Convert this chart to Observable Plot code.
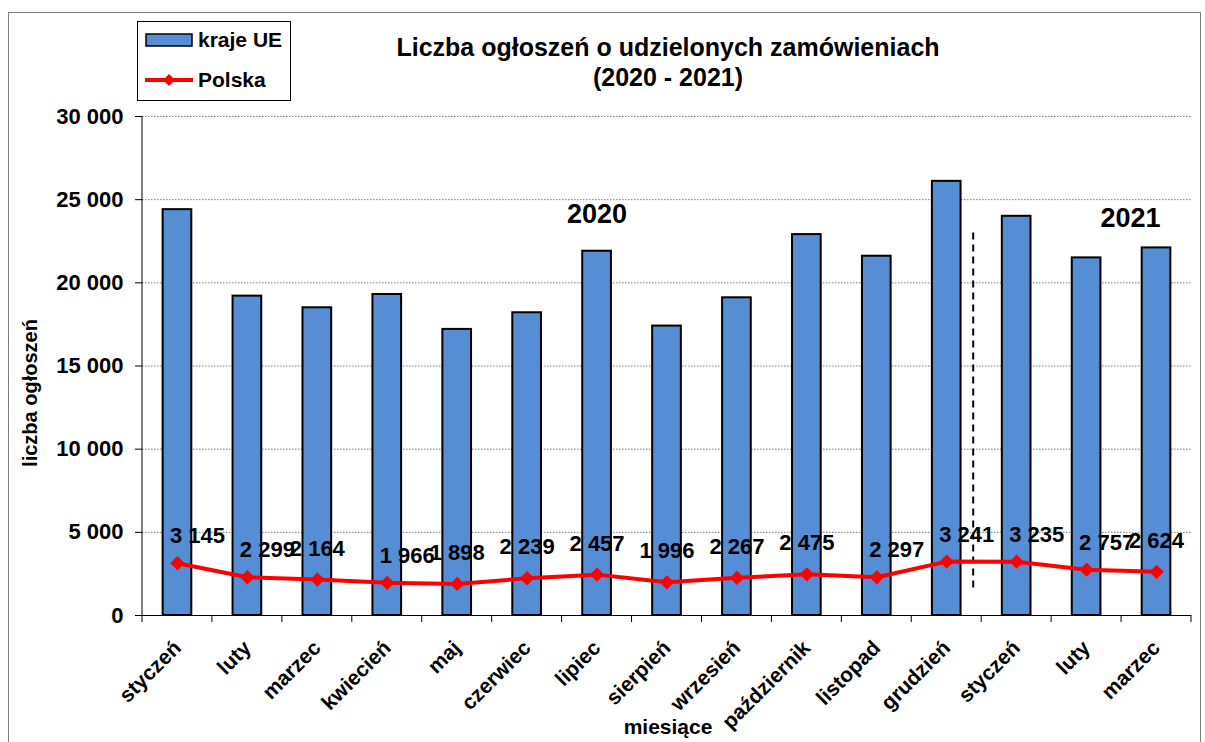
<!DOCTYPE html>
<html>
<head>
<meta charset="utf-8">
<script src="https://cdn.jsdelivr.net/npm/d3@7"></script>
<script src="https://cdn.jsdelivr.net/npm/@observablehq/plot@0.6"></script>
<style>
  html, body { margin: 0; padding: 0; background: #fff; }
  body { font-family: "Liberation Sans", Arial, sans-serif; font-weight: bold; color: #000; }
  #wrap { position: relative; width: 1205px; height: 742px; overflow: hidden; }
  #frame { position: absolute; left: 8px; top: 12px; width: 1193px; height: 800px; border: 1px solid #808080; box-sizing: border-box; }
  #chart { position: absolute; left: 0; top: 0; }
  #title { position: absolute; left: 268px; top: 32px; width: 800px; text-align: center; font-size: 25px; line-height: 30px; }
  #legend { position: absolute; left: 137px; top: 21px; width: 154px; height: 80px; border: 1px solid #000; box-sizing: border-box; background: #fff; }
  .lrow { position: absolute; left: 7px; display: flex; align-items: center; font-size: 21px; }
  .lrow svg { margin-right: 5px; }
  #ytitle { position: absolute; left: 30px; top: 393px; transform: translate(-50%, -50%) rotate(-90deg); font-size: 20px; white-space: nowrap; }
  #xtitle { position: absolute; left: 668px; top: 727px; transform: translate(-50%, -50%); font-size: 21px; white-space: nowrap; }
</style>
</head>
<body>
<div id="wrap">
  <div id="frame"></div>
  <div id="chart"></div>
  <div id="title">Liczba ogłoszeń o udzielonych zamówieniach<br>(2020 - 2021)</div>
  <div id="legend"></div>
  <div id="ytitle">liczba ogłoszeń</div>
  <div id="xtitle">miesiące</div>
</div>
<script>
// ---- data ----
const months = ["styczeń", "luty", "marzec", "kwiecień", "maj", "czerwiec", "lipiec", "sierpień",
                "wrzesień", "październik", "listopad", "grudzień", "styczeń", "luty", "marzec"];
const years = [2020, 2020, 2020, 2020, 2020, 2020, 2020, 2020, 2020, 2020, 2020, 2020, 2021, 2021, 2021];
const ueValues = [24400, 19200, 18500, 19300, 17200, 18200, 21900, 17400, 19100, 22900, 21600, 26100, 24000, 21500, 22100];
const plValues = [3145, 2299, 2164, 1966, 1898, 2239, 2457, 1996, 2267, 2475, 2297, 3241, 3235, 2757, 2624];
const yTicks = [0, 5000, 10000, 15000, 20000, 25000, 30000];
const seriesNames = ["kraje UE", "Polska"];
const yearNotes = ["2020", "2021"];
const yearNoteIndex = [6, 13];
const yearNoteValue = [24100, 23900];
const separatorRange = [1400, 23000];

const rows = months.map((m, i) => ({i, month: m, year: years[i], ue: ueValues[i], pl: plValues[i]}));
const notes = yearNotes.map((t, k) => ({t, i: yearNoteIndex[k], v: yearNoteValue[k]}));

const BLUE = "#558ed5";
const RED = "#ff0000";
const fmt = d => d3.format(",")(d).replace(/,/g, " ");
const shiftedLabels = new Set([0, 1, 3, 10, 11, 12, 13]);

// axis line, category boundary ticks and the year separator, drawn from the plot's scales
function extras(index, scales, values, dim) {
  const g = d3.create("svg:g");
  const x = scales.x, y = scales.y;
  const step = x.step(), bw = x.bandwidth();
  const y0 = y(0), yTop = y(yTicks[yTicks.length - 1]);
  const left = x(0) - (step - bw) / 2;
  g.append("line").attr("x1", left).attr("x2", left).attr("y1", yTop).attr("y2", y0)
    .attr("stroke", "#000").attr("stroke-width", 1);
  for (let k = 0; k <= months.length; k++) {
    const bx = left + k * step;
    g.append("line").attr("x1", bx).attr("x2", bx).attr("y1", y0).attr("y2", y0 + 7)
      .attr("stroke", "#000").attr("stroke-width", 1);
  }
  const sepIndex = years.indexOf(2021);
  const sx = x(sepIndex) - (step - bw) / 2 - 8;
  g.append("line").attr("x1", sx).attr("x2", sx)
    .attr("y1", y(separatorRange[1])).attr("y2", y(separatorRange[0]))
    .attr("stroke", "#000").attr("stroke-width", 2).attr("stroke-dasharray", "7,5");
  return g.node();
}

const chart = Plot.plot({
  width: 1205,
  height: 742,
  marginLeft: 142,
  marginRight: 14,
  marginTop: 116,
  marginBottom: 127,
  style: {fontFamily: "'Liberation Sans', Arial, sans-serif", fontWeight: "bold", color: "#000", background: "transparent", overflow: "visible"},
  x: {type: "band", domain: d3.range(months.length), paddingInner: 0.59, paddingOuter: 0.295, align: 0.5, round: false},
  y: {domain: [0, 30000]},
  marks: [
    Plot.gridY({ticks: yTicks.filter(d => d > 0), stroke: "#7a7a7a", strokeOpacity: 1, strokeDasharray: "1.5,1.5"}),
    Plot.barY(rows, {x: "i", y: "ue", fill: BLUE, stroke: "#000", strokeWidth: 2}),
    Plot.ruleY([0], {stroke: "#000", strokeWidth: 1}),
    extras,
    Plot.axisY({ticks: yTicks, tickFormat: fmt, tickSize: 7, tickPadding: 12, fontSize: 22, fontWeight: "bold", label: null}),
    Plot.axisX({tickFormat: i => months[i], tickRotate: -45, tickSize: 0, tickPadding: 10, fontSize: 21, fontWeight: "bold", label: null, dx: 0, dy: 19}),
    Plot.line(rows, {x: "i", y: "pl", stroke: RED, strokeWidth: 4}),
    Plot.dot(rows, {x: "i", y: "pl", symbol: "diamond2", fill: RED, stroke: RED, r: 5.5}),
    Plot.text(rows.filter(d => shiftedLabels.has(d.i)), {x: "i", y: "pl", text: d => fmt(d.pl), dx: 20, dy: -27, fontSize: 22, fontWeight: "bold", fill: "#000"}),
    Plot.text(rows.filter(d => !shiftedLabels.has(d.i)), {x: "i", y: "pl", text: d => fmt(d.pl), dy: -31, fontSize: 22, fontWeight: "bold", fill: "#000"}),
    Plot.text(notes.filter(d => d.t === "2020"), {x: "i", y: "v", text: "t", fontSize: 27, fontWeight: "bold", fill: "#000"}),
    Plot.text(notes.filter(d => d.t === "2021"), {x: "i", y: "v", text: "t", dx: 44, fontSize: 27, fontWeight: "bold", fill: "#000"})
  ]
});
document.getElementById("chart").appendChild(chart);

// legend
const legend = document.getElementById("legend");
const swatches = [
  `<svg width="48" height="14"><rect x="1" y="1" width="46" height="12" fill="${BLUE}" stroke="#000" stroke-width="1.5"/></svg>`,
  `<svg width="48" height="14"><line x1="0" x2="48" y1="7" y2="7" stroke="${RED}" stroke-width="4"/><path d="M24,1 L30,7 L24,13 L18,7 Z" fill="${RED}"/></svg>`
];
seriesNames.forEach((name, k) => {
  const row = document.createElement("div");
  row.className = "lrow";
  row.style.top = (k === 0 ? 6 : 46) + "px";
  row.innerHTML = swatches[k] + `<span>${name}</span>`;
  legend.appendChild(row);
});
</script>
</body>
</html>
